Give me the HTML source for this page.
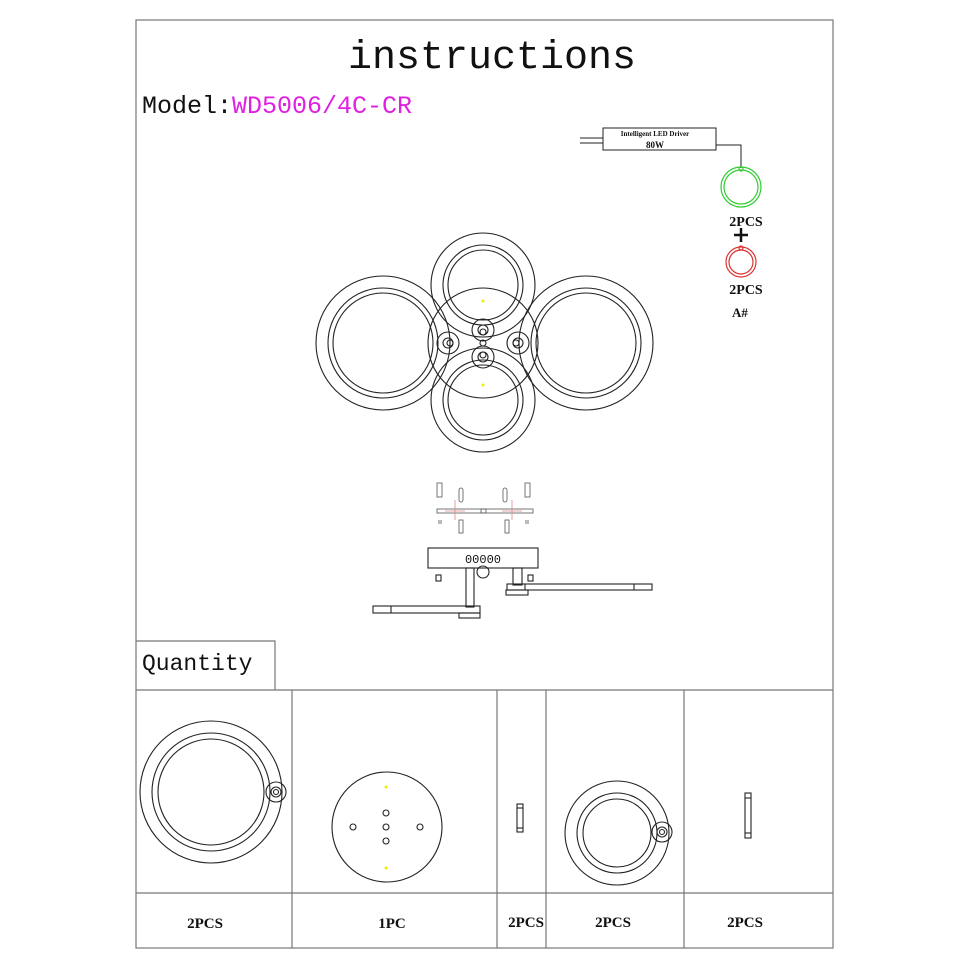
<!DOCTYPE html>
<html><head><meta charset="utf-8"><style>
html,body{margin:0;padding:0;background:#fff;width:970px;height:970px;overflow:hidden}
svg{display:block}
.m{font-family:"Liberation Mono",monospace}
.s{font-family:"Liberation Serif",serif;font-weight:bold}
</style></head><body>
<svg width="970" height="970" viewBox="0 0 970 970" xmlns="http://www.w3.org/2000/svg">
<rect x="0" y="0" width="970" height="970" fill="#fff"/>
<g fill="none" stroke="#777" stroke-width="1.2">
<rect x="136" y="20" width="697" height="928"/>
<polyline points="136,641 275,641 275,690"/>
<line x1="136" y1="690" x2="833" y2="690"/>
<line x1="136" y1="893" x2="833" y2="893"/>
<line x1="292" y1="690" x2="292" y2="948"/>
<line x1="497" y1="690" x2="497" y2="948"/>
<line x1="546" y1="690" x2="546" y2="948"/>
<line x1="684" y1="690" x2="684" y2="948"/>
</g>
<text x="492" y="68" text-anchor="middle" class="m" font-size="40" fill="#111">instructions</text>
<text x="142" y="113" class="m" font-size="25" fill="#111">Model:<tspan fill="#e020e0">WD5006/4C-CR</tspan></text>
<text x="142" y="670" class="m" font-size="23" fill="#111">Quantity</text>

<!-- driver -->
<g fill="none" stroke="#222" stroke-width="1">
<line x1="580" y1="138" x2="603" y2="138"/><line x1="580" y1="143" x2="603" y2="143"/>
<rect x="603" y="128" width="113" height="22"/>
<polyline points="716,145 741,145 741,168"/>
</g>
<text x="655" y="136" text-anchor="middle" class="s" font-size="7" fill="#111">Intelligent LED Driver</text>
<text x="655" y="148" text-anchor="middle" class="s" font-size="9" fill="#111">80W</text>
<g fill="none" stroke="#3c3" stroke-width="1.2"><circle cx="741" cy="187" r="20"/><circle cx="741" cy="187" r="17"/><circle cx="741" cy="169" r="2"/></g>
<g fill="none" stroke="#d33" stroke-width="1.2"><circle cx="741" cy="262" r="15"/><circle cx="741" cy="262" r="12"/><circle cx="741" cy="248" r="2"/></g>
<text x="746" y="226" text-anchor="middle" class="s" font-size="14" fill="#111">2PCS</text>
<path d="M734 235h14M741 228v14" stroke="#111" stroke-width="2.5"/>
<text x="746" y="294" text-anchor="middle" class="s" font-size="14" fill="#111">2PCS</text>
<text x="740" y="317" text-anchor="middle" class="s" font-size="13" fill="#111">A#</text>

<!-- main diagram -->
<g fill="none" stroke="#222" stroke-width="1.1">
<circle cx="383" cy="343" r="67"/><circle cx="383" cy="343" r="55"/><circle cx="383" cy="343" r="50"/>
<circle cx="586" cy="343" r="67"/><circle cx="586" cy="343" r="55"/><circle cx="586" cy="343" r="50"/>
<circle cx="483" cy="285" r="52"/><circle cx="483" cy="285" r="40"/><circle cx="483" cy="285" r="35"/>
<circle cx="483" cy="400" r="52"/><circle cx="483" cy="400" r="40"/><circle cx="483" cy="400" r="35"/>
<circle cx="483" cy="343" r="55"/>
<circle cx="448" cy="343" r="11"/><circle cx="448" cy="343" r="5"/><circle cx="450" cy="343" r="3"/>
<circle cx="518" cy="343" r="11"/><circle cx="518" cy="343" r="5"/><circle cx="516" cy="343" r="3"/>
<circle cx="483" cy="330" r="11"/><circle cx="483" cy="330" r="5"/><circle cx="483" cy="332" r="3"/>
<circle cx="483" cy="357" r="11"/><circle cx="483" cy="357" r="5"/><circle cx="483" cy="355" r="3"/>
<circle cx="483" cy="343" r="3"/>
</g>
<circle cx="483" cy="301" r="1.5" fill="#ee0"/><circle cx="483" cy="385" r="1.5" fill="#ee0"/>

<!-- hardware -->
<g fill="none" stroke="#555" stroke-width="0.8">
<rect x="437" y="483" width="5" height="14"/><rect x="525" y="483" width="5" height="14"/>
<rect x="459" y="488" width="4" height="14" rx="2"/><rect x="503" y="488" width="4" height="14" rx="2"/>
<rect x="437" y="509" width="96" height="4"/>
<rect x="481" y="509" width="5" height="4"/>
<rect x="459" y="520" width="4" height="13"/><rect x="505" y="520" width="4" height="13"/>
<line x1="438" y1="521" x2="442" y2="521"/><line x1="438" y1="523" x2="442" y2="523"/>
<line x1="525" y1="521" x2="529" y2="521"/><line x1="525" y1="523" x2="529" y2="523"/>
</g>
<g stroke="#d88" stroke-width="0.8"><line x1="455" y1="500" x2="455" y2="520"/><line x1="512" y1="500" x2="512" y2="520"/><line x1="445" y1="511" x2="465" y2="511"/><line x1="502" y1="511" x2="522" y2="511"/></g>

<!-- side view -->
<g fill="none" stroke="#222" stroke-width="1.1">
<rect x="428" y="548" width="110" height="20"/>
<rect x="466" y="568" width="8" height="39"/>
<circle cx="483" cy="572" r="6"/>
<rect x="513" y="568" width="9" height="17"/>
<rect x="373" y="606" width="107" height="7"/><line x1="391" y1="606" x2="391" y2="613"/>
<rect x="459" y="613" width="21" height="5"/>
<rect x="507" y="584" width="145" height="6"/><line x1="634" y1="584" x2="634" y2="590"/><line x1="525" y1="584" x2="525" y2="590"/>
<rect x="506" y="590" width="22" height="5"/>
<rect x="436" y="575" width="5" height="6"/><rect x="528" y="575" width="5" height="6"/>
</g>
<text x="483" y="563" text-anchor="middle" class="m" font-size="12" fill="#111">00000</text>

<!-- quantity items -->
<g fill="none" stroke="#222" stroke-width="1.1">
<circle cx="211" cy="792" r="71"/><circle cx="211" cy="792" r="59"/><circle cx="211" cy="792" r="53"/>
<circle cx="276" cy="792" r="10"/><circle cx="276" cy="792" r="5"/><circle cx="276" cy="792" r="2.5"/>
<circle cx="387" cy="827" r="55"/>
<circle cx="386" cy="813" r="3"/><circle cx="386" cy="827" r="3"/><circle cx="386" cy="841" r="3"/><circle cx="353" cy="827" r="3"/><circle cx="420" cy="827" r="3"/>
<rect x="517" y="804" width="6" height="28"/><line x1="517" y1="808" x2="523" y2="808"/><line x1="517" y1="828" x2="523" y2="828"/>
<circle cx="617" cy="833" r="52"/><circle cx="617" cy="833" r="40"/><circle cx="617" cy="833" r="34"/>
<circle cx="662" cy="832" r="10"/><circle cx="662" cy="832" r="5"/><circle cx="662" cy="832" r="2.5"/>
<rect x="745" y="793" width="6" height="45"/><line x1="745" y1="798" x2="751" y2="798"/><line x1="745" y1="833" x2="751" y2="833"/>
</g>
<circle cx="386" cy="787" r="1.5" fill="#ee0"/><circle cx="386" cy="868" r="1.5" fill="#ee0"/>
<g class="s" font-size="15" fill="#111" text-anchor="middle">
<text x="205" y="928">2PCS</text><text x="392" y="928">1PC</text><text x="526" y="927">2PCS</text><text x="613" y="927">2PCS</text><text x="745" y="927">2PCS</text>
</g>
</svg>
</body></html>
